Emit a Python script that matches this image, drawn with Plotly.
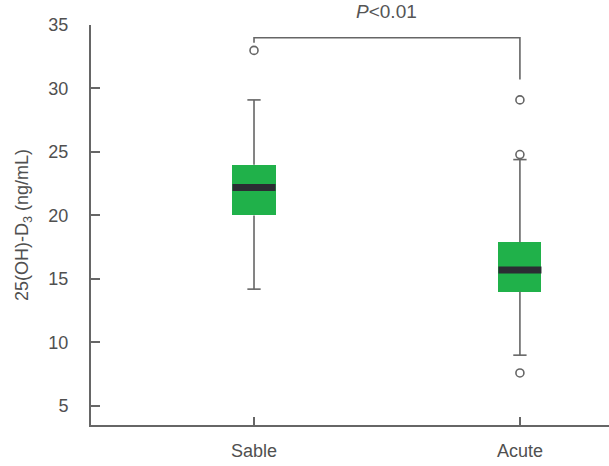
import plotly.graph_objects as go

categories = ["Sable", "Acute"]
xpos = [0, 1]
q1 = [20.0, 14.0]
median = [22.2, 15.7]
q3 = [24.0, 17.9]
lower_whisker = [14.2, 9.0]
upper_whisker = [29.1, 24.4]
outliers = [[33.0], [29.1, 24.8, 7.6]]
y_ticks = [5, 10, 15, 20, 25, 30, 35]
bracket_top = 34.0
bracket_left_end = 33.6
bracket_right_end = 30.7
p_text = "<i>P</i><0.01"

GREEN = "#20b14a"
GRAY = "#666666"
DARK = "#2b2d33"
BOXW = 0.162
CAPW = 0.05

fig = go.Figure()

# whiskers
for x, lo, a, b, hi in zip(xpos, lower_whisker, q1, q3, upper_whisker):
    fig.add_trace(go.Scatter(
        x=[x, x, None, x, x, None, x - CAPW / 2, x + CAPW / 2, None, x - CAPW / 2, x + CAPW / 2],
        y=[lo, a, None, b, hi, None, lo, lo, None, hi, hi],
        mode="lines", line=dict(color=GRAY, width=1.6), showlegend=False, hoverinfo="skip"))

# boxes
fig.add_trace(go.Bar(
    x=xpos, y=[b - a for a, b in zip(q1, q3)], base=q1, width=BOXW,
    marker=dict(color=GREEN, line=dict(width=0)), showlegend=False, hoverinfo="skip"))

# medians
for x, m in zip(xpos, median):
    fig.add_trace(go.Scatter(
        x=[x - BOXW / 2, x + BOXW / 2], y=[m, m], mode="lines",
        line=dict(color=DARK, width=7), showlegend=False, hoverinfo="skip"))

# outliers
for x, outs in zip(xpos, outliers):
    fig.add_trace(go.Scatter(
        x=[x] * len(outs), y=outs, mode="markers",
        marker=dict(symbol="circle-open", size=8, color=GRAY, line=dict(width=1.6)),
        showlegend=False, hoverinfo="skip", cliponaxis=False))

# significance bracket
fig.add_trace(go.Scatter(
    x=[xpos[0], xpos[0], xpos[1], xpos[1]],
    y=[bracket_left_end, bracket_top, bracket_top, bracket_right_end],
    mode="lines", line=dict(color=GRAY, width=1.6), showlegend=False,
    hoverinfo="skip", cliponaxis=False))

fig.add_annotation(x=0.5, y=bracket_top, yshift=14, text=p_text, showarrow=False,
                   font=dict(size=19, color="#555555", family="Liberation Sans, Arial"),
                   xanchor="center", yanchor="bottom")

FONT = "Liberation Sans, Arial"
fig.update_layout(
    width=609, height=466,
    margin=dict(l=91, r=0, t=25, b=41),
    plot_bgcolor="white", paper_bgcolor="white",
    font=dict(family=FONT, size=18, color="#505050"),
    bargap=0,
    xaxis=dict(range=[-0.613, 1.335], tickvals=xpos, ticktext=categories,
               showline=True, linecolor=GRAY, linewidth=2, ticks="inside",
               ticklen=8, tickcolor=GRAY, tickwidth=1.5, showgrid=False,
               zeroline=False, ticklabelstandoff=8,
               tickfont=dict(size=18, color="#505050")),
    yaxis=dict(range=[3.5, 35], tickvals=y_ticks, showline=True, linecolor=GRAY,
               linewidth=2, ticks="inside", ticklen=9, tickcolor=GRAY, tickwidth=1.5,
               showgrid=False, zeroline=False, ticklabelstandoff=17,
               tickfont=dict(size=18, color="#505050"),
               title=dict(text="25(OH)-D<sub>3</sub> (ng/mL)", standoff=15,
                          font=dict(size=18, color="#505050"))),
)

fig.write_html("out.html")
